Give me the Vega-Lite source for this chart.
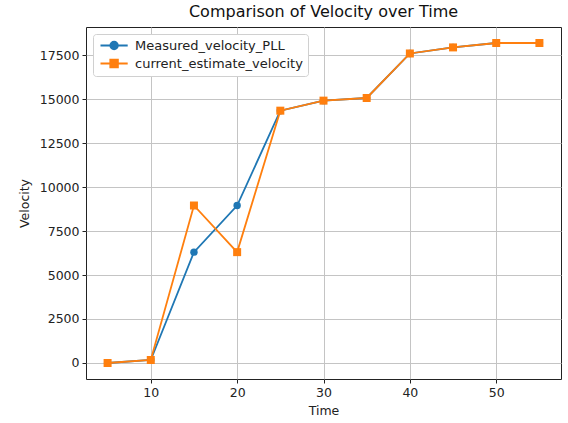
{
  "$schema": "https://vega.github.io/schema/vega-lite/v6.json",
  "width": 475,
  "height": 352,
  "autosize": {"type": "none"},
  "padding": {"left": 86, "top": 27, "right": 7, "bottom": 44},
  "background": "white",
  "title": {"text": "Comparison of Velocity over Time", "font": "DejaVu Sans", "fontSize": 16, "fontWeight": "normal", "color": "#111", "offset": 7},
  "data": {"values": [
    {"Time": 5, "series": "Measured_velocity_PLL", "Velocity": 0},
    {"Time": 10, "series": "Measured_velocity_PLL", "Velocity": 170},
    {"Time": 15, "series": "Measured_velocity_PLL", "Velocity": 6300},
    {"Time": 20, "series": "Measured_velocity_PLL", "Velocity": 8950},
    {"Time": 25, "series": "Measured_velocity_PLL", "Velocity": 14340},
    {"Time": 30, "series": "Measured_velocity_PLL", "Velocity": 14910},
    {"Time": 35, "series": "Measured_velocity_PLL", "Velocity": 15060},
    {"Time": 40, "series": "Measured_velocity_PLL", "Velocity": 17590},
    {"Time": 45, "series": "Measured_velocity_PLL", "Velocity": 17935},
    {"Time": 50, "series": "Measured_velocity_PLL", "Velocity": 18185},
    {"Time": 55, "series": "Measured_velocity_PLL", "Velocity": 18185},
    {"Time": 5, "series": "current_estimate_velocity", "Velocity": 0},
    {"Time": 10, "series": "current_estimate_velocity", "Velocity": 170},
    {"Time": 15, "series": "current_estimate_velocity", "Velocity": 8950},
    {"Time": 20, "series": "current_estimate_velocity", "Velocity": 6300},
    {"Time": 25, "series": "current_estimate_velocity", "Velocity": 14340},
    {"Time": 30, "series": "current_estimate_velocity", "Velocity": 14910},
    {"Time": 35, "series": "current_estimate_velocity", "Velocity": 15060},
    {"Time": 40, "series": "current_estimate_velocity", "Velocity": 17590},
    {"Time": 45, "series": "current_estimate_velocity", "Velocity": 17935},
    {"Time": 50, "series": "current_estimate_velocity", "Velocity": 18185},
    {"Time": 55, "series": "current_estimate_velocity", "Velocity": 18185}
  ]},
  "encoding": {
    "x": {"field": "Time", "type": "quantitative", "title": "Time",
      "scale": {"domain": [2.5, 57.5], "nice": false, "zero": false},
      "axis": {"values": [10, 20, 30, 40, 50], "format": "d"}},
    "y": {"field": "Velocity", "type": "quantitative", "title": "Velocity",
      "scale": {"domain": [-910, 19095], "nice": false, "zero": false},
      "axis": {"values": [0, 2500, 5000, 7500, 10000, 12500, 15000, 17500], "format": "d", "titlePadding": 8}},
    "color": {"field": "series", "type": "nominal",
      "scale": {"domain": ["Measured_velocity_PLL", "current_estimate_velocity"], "range": ["#1f77b4", "#ff7f0e"]},
      "legend": {
        "title": null,
        "orient": "top-left",
        "offset": 6.5,
        "fillColor": "white",
        "strokeColor": "#d0d0d0",
        "cornerRadius": 3,
        "padding": 5,
        "labelFont": "DejaVu Sans",
        "labelFontSize": 13,
        "labelColor": "#222",
        "labelOffset": 24,
        "labelLimit": 400,
        "rowPadding": 3,
        "symbolSize": 64,
        "symbolStrokeWidth": 1.8,
        "encode": {
          "symbols": {
            "update": {
              "shape": {"signal": "datum.value == 'Measured_velocity_PLL' ? 'M-1,0H5.8M3.35,0A0.95,0.95 0 1,1 1.45,0A0.95,0.95 0 1,1 3.35,0Z' : 'M-1,0H5.8M1.45,-0.95H3.35V0.95H1.45Z'"},
              "fill": {"scale": "color", "field": "value"},
              "stroke": {"scale": "color", "field": "value"},
              "strokeWidth": {"value": 1.8},
              "opacity": {"value": 1},
              "fillOpacity": {"value": 1}
            }
          }
        }
      }
    }
  },
  "layer": [
    {"transform": [{"filter": "datum.series == 'Measured_velocity_PLL'"}], "mark": {"type": "line", "strokeWidth": 1.8}},
    {"transform": [{"filter": "datum.series == 'Measured_velocity_PLL'"}], "mark": {"type": "point", "shape": "circle", "filled": true, "opacity": 1, "size": 55}},
    {"transform": [{"filter": "datum.series == 'current_estimate_velocity'"}], "mark": {"type": "line", "strokeWidth": 1.8}},
    {"transform": [{"filter": "datum.series == 'current_estimate_velocity'"}], "mark": {"type": "point", "shape": "square", "filled": true, "opacity": 1, "size": 64}}
  ],
  "config": {
    "view": {"stroke": "#222", "strokeWidth": 1},
    "axis": {
      "domain": false,
      "grid": true,
      "gridColor": "#c4c4c4",
      "gridWidth": 1,
      "tickColor": "#222",
      "tickSize": 4,
      "tickWidth": 1,
      "labelFont": "DejaVu Sans",
      "labelFontSize": 12.5,
      "labelColor": "#222",
      "labelPadding": 3,
      "titleFont": "DejaVu Sans",
      "titleFontSize": 12.5,
      "titleFontWeight": "normal",
      "titleColor": "#222"
    },
    "axisX": {"titlePadding": 6}
  }
}
